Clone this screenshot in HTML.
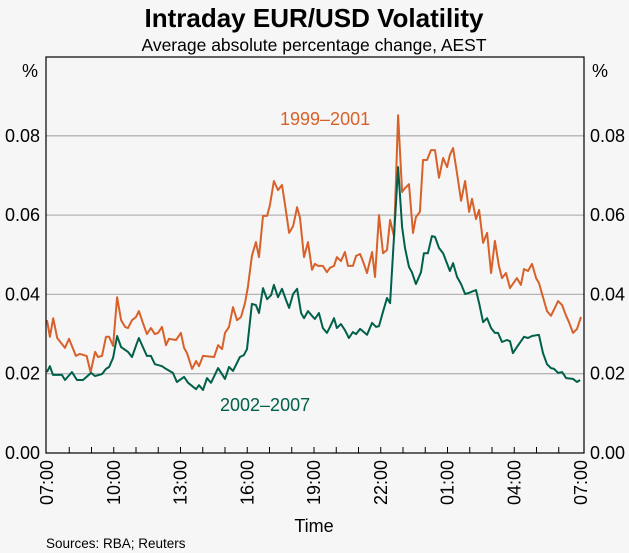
<!DOCTYPE html>
<html><head><meta charset="utf-8"><style>
body{margin:0;background:#f6f6f6;}
svg{display:block;font-family:"Liberation Sans",Arial,sans-serif;}
</style></head><body>
<svg id="chart" width="629" height="553" viewBox="0 0 629 553">
<rect width="629" height="553" fill="#f6f6f6"/>
<text x="314" y="27" text-anchor="middle" font-size="26" font-weight="bold" fill="#000">Intraday EUR/USD Volatility</text>
<text x="314" y="51" text-anchor="middle" font-size="17.5" fill="#000">Average absolute percentage change, AEST</text>
<text x="30" y="77" text-anchor="middle" font-size="18">%</text>
<text x="600" y="77" text-anchor="middle" font-size="18">%</text>
<g id="grid"></g>
<g id="series"></g>
<rect x="46" y="57" width="538" height="396" fill="none" stroke="#000" stroke-width="1.2"/>
<g id="axes"></g>
<text x="220" y="411" font-size="18" fill="#00604a">2002–2007</text>
<text x="280" y="125" font-size="18" fill="#d8612a">1999–2001</text>
<text x="314" y="532" text-anchor="middle" font-size="18">Time</text>
<text x="46" y="548" font-size="13.5">Sources: RBA; Reuters</text>
</svg>
<script>
const yTicks=[0,0.02,0.04,0.06,0.08];
const yTickLabels=["0.00","0.02","0.04","0.06","0.08"];
const xTickHours=[0,3,6,9,12,15,18,21,24];
const xTickLabels=["07:00","10:00","13:00","16:00","19:00","22:00","01:00","04:00","07:00"];
const hoursA=[0,0.13,0.28,0.46,0.81,0.99,1.30,1.48,1.78,1.96,2.16,2.29,2.47,2.65,2.79,2.97,3.15,3.33,3.51,3.64,3.82,4.00,4.13,4.31,4.49,4.67,4.85,4.99,5.17,5.35,5.48,5.80,6.02,6.16,6.29,6.52,6.70,6.83,7.01,7.51,7.69,7.87,8.00,8.18,8.36,8.54,8.72,8.90,9.03,9.21,9.39,9.53,9.71,9.89,10.02,10.20,10.38,10.56,10.70,10.88,11.06,11.24,11.37,11.55,11.73,11.91,12.04,12.18,12.40,12.58,12.72,12.90,13.03,13.21,13.39,13.53,13.75,13.89,14.07,14.20,14.38,14.61,14.74,14.92,15.10,15.28,15.42,15.60,15.78,15.96,16.09,16.27,16.45,16.58,16.76,16.90,17.08,17.26,17.44,17.62,17.80,17.98,18.11,18.25,18.43,18.61,18.79,18.97,19.10,19.28,19.42,19.60,19.78,19.96,20.13,20.31,20.45,20.63,20.81,21.12,21.30,21.44,21.62,21.80,21.98,22.11,22.29,22.47,22.65,22.97,23.15,23.33,23.46,23.64,23.82,24.00];
const values1999=[0.0335,0.0293,0.0340,0.0290,0.0265,0.0288,0.0245,0.0250,0.0245,0.0204,0.0255,0.0242,0.0245,0.0293,0.0293,0.0270,0.0393,0.0335,0.0318,0.0315,0.0335,0.0343,0.0358,0.0328,0.0300,0.0315,0.0300,0.0303,0.0318,0.0272,0.0288,0.0285,0.0303,0.0265,0.0252,0.0212,0.0232,0.0219,0.0245,0.0242,0.0272,0.0262,0.0303,0.0318,0.0368,0.0335,0.0343,0.0378,0.0419,0.0497,0.0532,0.0494,0.0598,0.0598,0.0625,0.0686,0.0663,0.0676,0.0625,0.0555,0.0572,0.0620,0.0593,0.0494,0.0532,0.0462,0.0477,0.0472,0.0472,0.0456,0.0467,0.0472,0.0494,0.0484,0.0507,0.0472,0.0472,0.0497,0.0502,0.0484,0.0454,0.0507,0.0444,0.0600,0.0504,0.0512,0.0588,0.0545,0.0852,0.0658,0.0668,0.0678,0.0555,0.0595,0.0608,0.0739,0.0739,0.0764,0.0764,0.0694,0.0744,0.0721,0.0752,0.0769,0.0704,0.0636,0.0686,0.0608,0.0641,0.0590,0.0613,0.0530,0.0555,0.0454,0.0535,0.0472,0.0441,0.0454,0.0416,0.0441,0.0424,0.0464,0.0459,0.0477,0.0441,0.0429,0.0393,0.0358,0.0346,0.0383,0.0373,0.0346,0.0330,0.0303,0.0313,0.0343];
const hoursB=[0,0.13,0.27,0.67,0.81,1.12,1.35,1.62,1.98,2.16,2.47,2.65,2.79,2.97,3.15,3.33,3.64,3.82,4.04,4.13,4.31,4.49,4.67,4.85,5.17,5.35,5.66,5.84,6.16,6.34,6.70,6.83,7.01,7.19,7.37,7.69,8.00,8.18,8.36,8.67,8.85,8.99,9.21,9.39,9.53,9.71,9.89,10.07,10.20,10.38,10.56,10.74,10.88,11.06,11.24,11.42,11.55,11.73,11.91,12.04,12.22,12.40,12.58,12.72,12.90,13.03,13.21,13.39,13.57,13.75,13.89,14.07,14.38,14.61,14.79,14.92,15.10,15.28,15.42,15.78,15.96,16.09,16.27,16.40,16.58,16.81,16.94,17.12,17.30,17.44,17.62,17.80,18.11,18.25,18.43,18.61,18.79,18.97,19.28,19.42,19.60,19.78,19.96,20.13,20.27,20.45,20.67,20.81,20.94,21.12,21.44,21.62,21.80,22.11,22.29,22.47,22.65,22.79,22.97,23.15,23.33,23.64,23.82,23.96];
const values2002=[0.0204,0.0219,0.0197,0.0197,0.0184,0.0204,0.0184,0.0184,0.0202,0.0194,0.0199,0.0212,0.0217,0.0240,0.0295,0.0267,0.0255,0.0242,0.0277,0.0290,0.0267,0.0245,0.0245,0.0224,0.0219,0.0212,0.0202,0.0179,0.0192,0.0177,0.0161,0.0171,0.0159,0.0189,0.0177,0.0214,0.0187,0.0217,0.0207,0.0242,0.0247,0.0262,0.0376,0.0373,0.0353,0.0416,0.0388,0.0398,0.0424,0.0393,0.0414,0.0386,0.0366,0.0401,0.0414,0.0353,0.0340,0.0358,0.0346,0.0338,0.0353,0.0315,0.0303,0.0318,0.0340,0.0315,0.0325,0.0310,0.0290,0.0305,0.0300,0.0313,0.0298,0.0328,0.0318,0.0320,0.0356,0.0391,0.0378,0.0721,0.0570,0.0517,0.0469,0.0456,0.0426,0.0456,0.0504,0.0504,0.0547,0.0545,0.0517,0.0504,0.0459,0.0479,0.0444,0.0426,0.0401,0.0404,0.0411,0.0378,0.0330,0.0340,0.0315,0.0303,0.0303,0.0280,0.0285,0.0282,0.0252,0.0267,0.0293,0.0290,0.0295,0.0298,0.0252,0.0224,0.0214,0.0212,0.0202,0.0204,0.0189,0.0187,0.0179,0.0184];

const NS="http://www.w3.org/2000/svg";
function xs(h){return 47+h*22.25;}
function ys(v){return 453-v*3965;}
const grid=document.getElementById('grid');
const axes=document.getElementById('axes');
const series=document.getElementById('series');
function mk(tag,attrs,parent){const e=document.createElementNS(NS,tag);for(const k in attrs)e.setAttribute(k,attrs[k]);parent.appendChild(e);return e;}
yTicks.forEach((v,i)=>{
  if(v>0){const g=mk('line',{x1:46,x2:584,y1:ys(v),y2:ys(v),stroke:'#b4b4b4','stroke-width':1.3},grid);
  
  }
  const l=mk('text',{x:40,y:ys(v)+6,'text-anchor':'end','font-size':18},axes);l.textContent=yTickLabels[i];
  
  
  const r=mk('text',{x:590,y:ys(v)+6,'font-size':18},axes);r.textContent=yTickLabels[i];
  
  
});
for(let h=1;h<24;h++){
  const t=mk('line',{x1:xs(h),x2:xs(h),y1:453,y2:447,stroke:'#000','stroke-width':1},axes);
  
  
}
xTickHours.forEach((h,i)=>{
  const x=xs(h)+6;
  const t=mk('text',{x:x,y:460,'text-anchor':'end','font-size':18,transform:'rotate(-90 '+x+' 460)'},axes);
  t.textContent=xTickLabels[i];
  
  
});
function line(hs,vs,color,name){
  const d=hs.map((h,i)=>(i?'L':'M')+xs(h).toFixed(1)+' '+ys(vs[i]).toFixed(1)).join(' ');
  const p=mk('path',{d:d,fill:'none',stroke:color,'stroke-width':2,'stroke-linejoin':'round'},series);
  
  
}
line(hoursA,values1999,'#d8612a','line-1999-2001');
line(hoursB,values2002,'#00604a','line-2002-2007');
</script>
</body></html>
